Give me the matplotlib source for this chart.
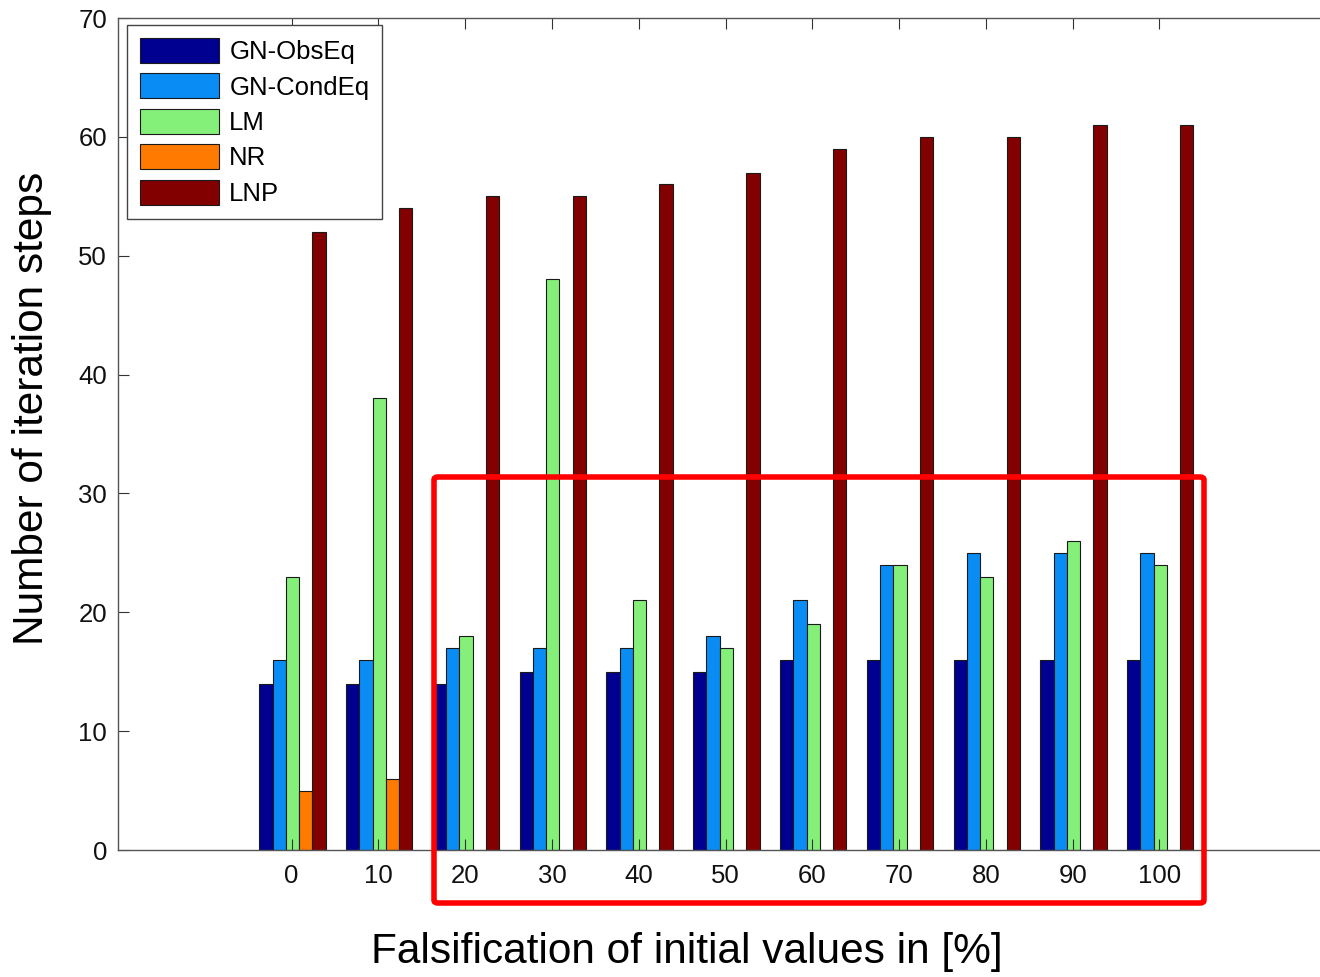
import matplotlib
matplotlib.use("Agg")
import matplotlib.pyplot as plt
import numpy as np
from matplotlib.patches import FancyBboxPatch

plt.rcParams['font.family'] = ['Liberation Sans', 'DejaVu Sans']

categories = [0, 10, 20, 30, 40, 50, 60, 70, 80, 90, 100]
series_names = ["GN-ObsEq", "GN-CondEq", "LM", "NR", "LNP"]
gn_obseq = [14, 14, 14, 15, 15, 15, 16, 16, 16, 16, 16]
gn_condeq = [16, 16, 17, 17, 17, 18, 21, 24, 25, 25, 25]
lm = [23, 38, 18, 48, 21, 17, 19, 24, 23, 26, 24]
nr = [5, 6, 0, 0, 0, 0, 0, 0, 0, 0, 0]
lnp = [52, 54, 55, 55, 56, 57, 59, 60, 60, 61, 61]
series = [gn_obseq, gn_condeq, lm, nr, lnp]
colors = ["#000090", "#0A8CF5", "#84F07A", "#FF7A00", "#830000"]

W, H = 1320, 977
fig = plt.figure(figsize=(W / 100, H / 100), dpi=100)
ax = fig.add_axes([118 / W, 127 / H, 1215 / W, 832 / H])

x = np.array(categories, dtype=float)
bw = 1.53
for i, (name, vals, c) in enumerate(zip(series_names, series, colors)):
    ax.bar(x + (i - 2) * bw + 0.1, vals, width=bw, color=c, edgecolor="#1a1a1a",
           linewidth=0.8, label=name)

ax.set_xlim(-20, 120)
ax.set_ylim(0, 70)
ax.set_xticks(categories)
ax.set_yticks(range(0, 71, 10))
ax.tick_params(direction="in", length=8, width=0.8, labelsize=18.5,
               top=True, right=True, colors="#333333", labelcolor="#111111")
ax.tick_params(axis="x", pad=10)
ax.tick_params(axis="y", pad=8)
for s in ax.spines.values():
    s.set_color("#555555")
    s.set_linewidth(1.0)

fig.text(687 / W, 1 - 952 / H, "Falsification of initial values in [%]",
         ha="center", va="center", fontsize=30.5)
fig.text(32 / W, 1 - 408 / H, "Number of iteration steps",
         ha="center", va="center", fontsize=30.5, rotation=90)

leg = ax.legend(loc="upper left", bbox_to_anchor=(0.0074, 0.9916),
                fontsize=18.5, handlelength=3.1, handleheight=1.12,
                labelspacing=0.36, handletextpad=0.38, borderpad=0.5,
                borderaxespad=0, fancybox=False, framealpha=1,
                edgecolor="#444444")
leg.get_frame().set_linewidth(1.0)

rect = FancyBboxPatch((434 / W, 1 - 903 / H), (1204 - 434) / W, (903 - 477) / H,
                      boxstyle="round,pad=0,rounding_size=0.003",
                      transform=fig.transFigure, fill=False,
                      edgecolor="#FF0000", linewidth=4, zorder=10)
fig.patches.append(rect)

fig.savefig("out.png", dpi=100)
